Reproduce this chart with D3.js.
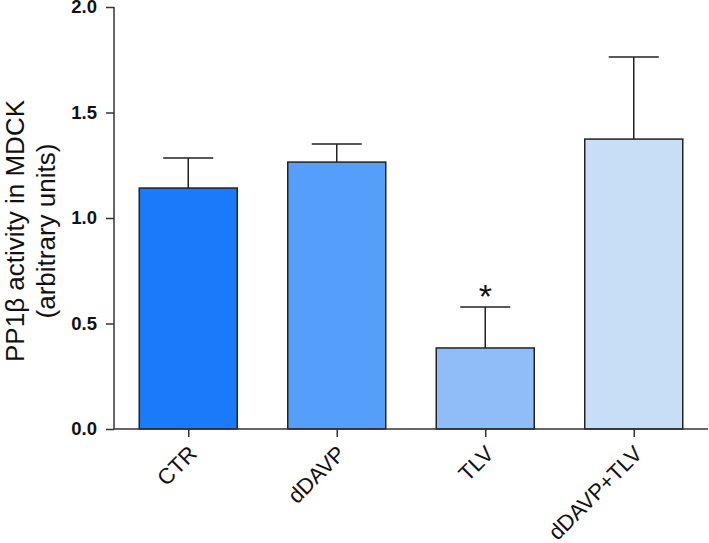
<!DOCTYPE html>
<html>
<head>
<meta charset="utf-8">
<script src="https://cdn.jsdelivr.net/npm/d3@7"></script>
<style>
  body { margin: 0; background: #fff; }
  text { font-family: "Liberation Sans", Arial, sans-serif; }
</style>
</head>
<body>
<svg id="chart" width="709" height="543"></svg>
<script>
// data
var groups = ["CTR", "dDAVP", "TLV", "dDAVP+TLV"];
var means  = [1.142, 1.265, 0.384, 1.374];
var errors = [0.142, 0.086, 0.194, 0.389];   // upper SEM bars
var colors = ["#1a7bfa", "#559ffa", "#90bdf8", "#c8ddf6"];
var signif = ["", "", "*", ""];
var yTicks = [0, 0.5, 1.0, 1.5, 2.0];

var svg = d3.select("#chart");

// axis frame (note: "top" is reserved on window, so use other names)
var plotLeft = 114, plotRight = 708, plotTop = 7, plotBottom = 429;
var barWidth = 98, capHalf = 25;

var x = d3.scalePoint().domain(groups).range([plotLeft, plotRight]).padding(0.5);
var y = d3.scaleLinear().domain([0, 2]).range([plotBottom, plotTop]);

// bars
var bars = svg.append("g").selectAll("g")
    .data(groups).enter()
    .append("g");

bars.append("rect")
    .attr("x", d => x(d) - barWidth/2)
    .attr("y", (d, i) => y(means[i]))
    .attr("width", barWidth)
    .attr("height", (d, i) => y(0) - y(means[i]))
    .attr("fill", (d, i) => colors[i])
    .attr("stroke", "#222")
    .attr("stroke-width", 1.5);

// error bars (upper only)
bars.append("line")
    .attr("x1", d => x(d)).attr("x2", d => x(d))
    .attr("y1", (d, i) => y(means[i]))
    .attr("y2", (d, i) => y(means[i] + errors[i]))
    .attr("stroke", "#222").attr("stroke-width", 1.5);
bars.append("line")
    .attr("x1", d => x(d) - capHalf).attr("x2", d => x(d) + capHalf)
    .attr("y1", (d, i) => y(means[i] + errors[i]))
    .attr("y2", (d, i) => y(means[i] + errors[i]))
    .attr("stroke", "#222").attr("stroke-width", 1.5);

// significance mark
bars.append("text")
    .attr("x", d => x(d))
    .attr("y", (d, i) => y(means[i] + errors[i]) + 1)
    .attr("text-anchor", "middle")
    .attr("font-size", 34)
    .attr("fill", "#111")
    .text((d, i) => signif[i]);

// y axis
var yAxis = svg.append("g")
    .attr("transform", "translate(" + plotLeft + ",0)")
    .call(d3.axisLeft(y).tickValues(yTicks).tickFormat(d3.format(".1f")).tickSize(8).tickPadding(9));
yAxis.select(".domain").attr("stroke", "#333").attr("stroke-width", 1.5)
    .attr("d", "M0," + plotTop + "V" + plotBottom);
yAxis.selectAll(".tick line").attr("stroke", "#333").attr("stroke-width", 1.5);
yAxis.selectAll(".tick text")
    .attr("font-size", 18.5).attr("font-weight", "bold").attr("fill", "#111")
    .attr("font-family", "Liberation Sans, Arial, sans-serif");

// x axis
var xAxis = svg.append("g")
    .attr("transform", "translate(0," + plotBottom + ")")
    .call(d3.axisBottom(x).tickSize(8).tickFormat(""));
xAxis.select(".domain").attr("stroke", "#333").attr("stroke-width", 1.5)
    .attr("d", "M" + plotLeft + ",0H" + plotRight);
xAxis.selectAll(".tick line").attr("stroke", "#333").attr("stroke-width", 1.5);

// rotated category labels
svg.append("g").selectAll("text")
    .data(groups).enter()
    .append("text")
    .attr("transform", d => "translate(" + (x(d) + 10) + "," + (plotBottom + 26) + ") rotate(-45)")
    .attr("text-anchor", "end")
    .attr("font-size", 22)
    .attr("fill", "#111")
    .text(d => d);

// y axis title
var title = svg.append("text")
    .attr("transform", "translate(0,231) rotate(-90)")
    .attr("text-anchor", "middle")
    .attr("font-size", 26)
    .attr("fill", "#111");
title.append("tspan").attr("x", 0).attr("y", 24).text("PP1\u03b2 activity in MDCK");
title.append("tspan").attr("x", 0).attr("y", 55).text("(arbitrary units)");
</script>
</body>
</html>
